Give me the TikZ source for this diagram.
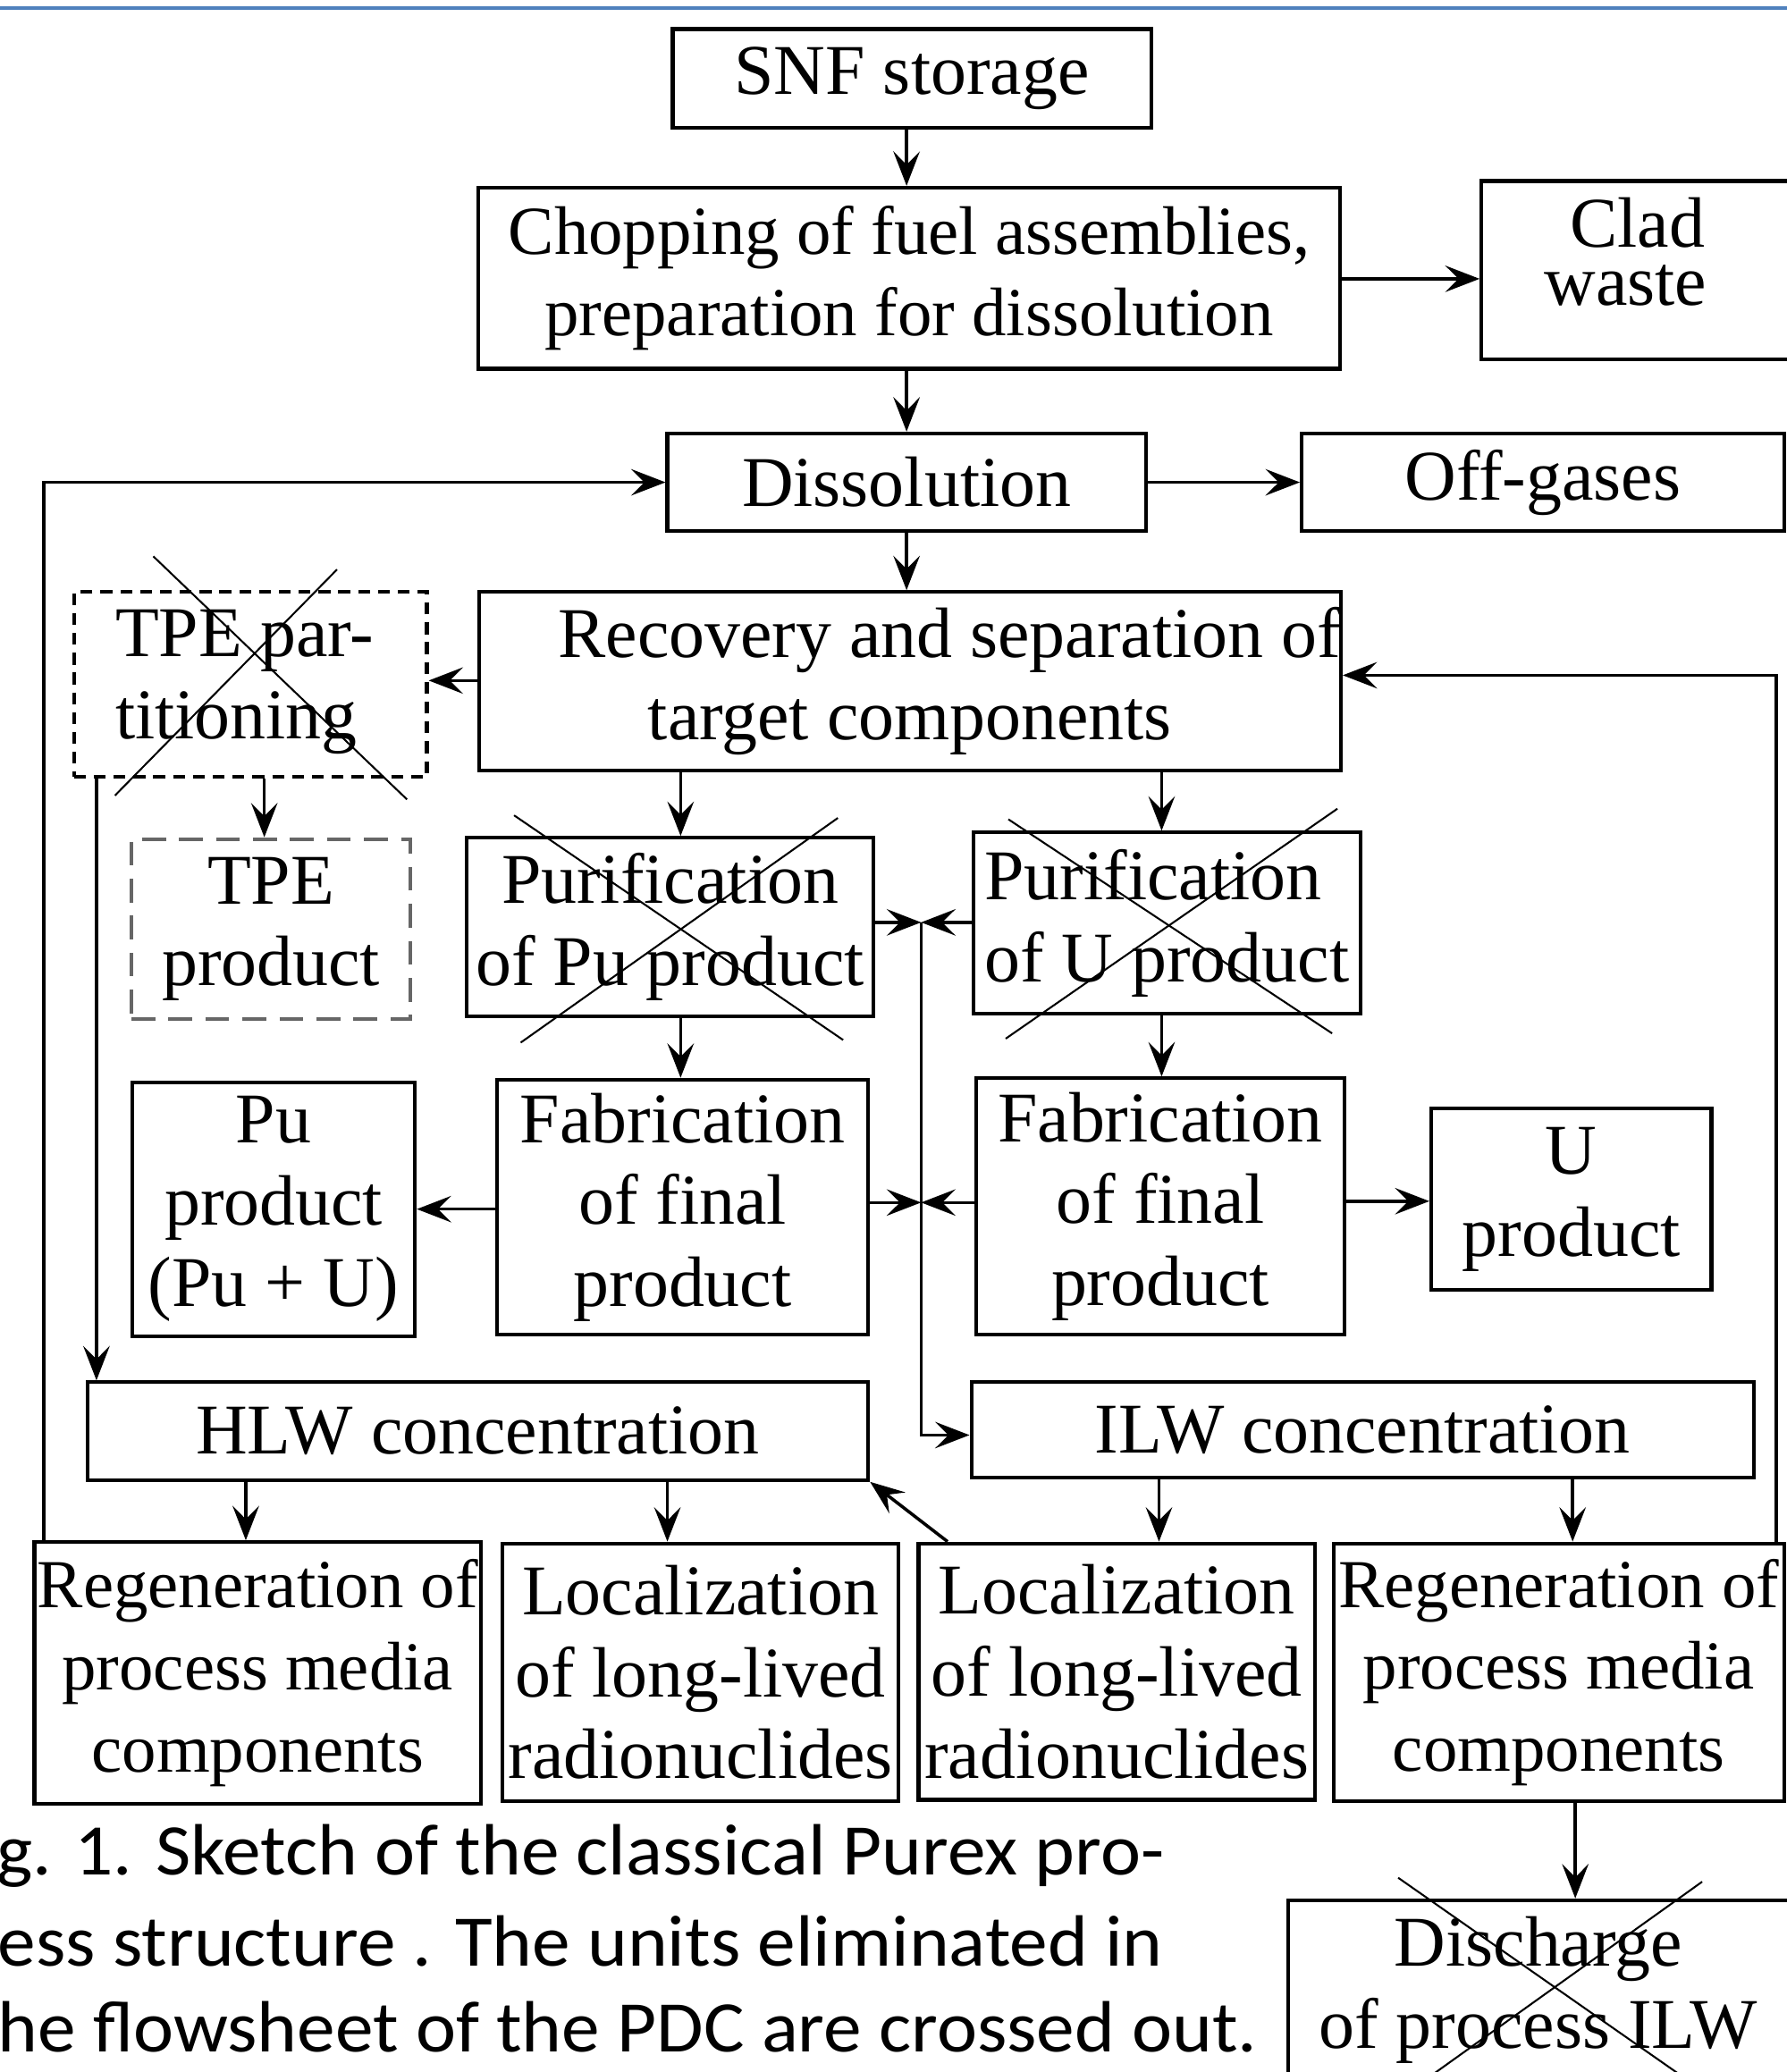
\documentclass[tikz,border=0pt]{standalone}
\usepackage{fontspec}
\setmainfont{Liberation Serif}
\newfontfamily\capfont[FakeStretch=1.05]{Carlito}
\usetikzlibrary{arrows.meta}
\definecolor{topblue}{HTML}{4F81BD}
\begin{document}
\begin{tikzpicture}[x=0.5pt,y=-0.5pt,
  bx/.style={draw=black, line width=1.4pt, inner sep=0pt, align=center, font=\fontsize{27}{31}\selectfont},
  sm/.style={font=\fontsize{26}{31}\selectfont},
  wh/.style 2 args={minimum width={#1*0.5pt}, minimum height={#2*0.5pt}},
  dbx/.style={bx, dash pattern=on 4.5pt off 3pt},
  dbxb/.style={bx, draw=black!60, dash pattern=on 9pt off 5pt},
  txt/.style={inner sep=0pt, align=center, font=\fontsize{27}{31}\selectfont},
  arr/.style={-{Stealth[length=13pt,width=10pt,inset=5pt]}, line width=1.2pt},
  xl/.style={line width=0.7pt},
  captxt/.style={inner sep=0pt, font=\capfont\fontsize{27.5}{33}\selectfont}
]
\useasboundingbox (0,0) rectangle (1352,1568);
\draw[topblue, line width=1.5pt] (0,6) -- (1352,6);

% boxes
\node[bx, wh={362}{75}] (snf) at (690,59.5) {SNF storage};
\node[bx, sm, wh={652}{137}] (chop) at (688,210.5) {Chopping of fuel assemblies,\\preparation for dissolution};
\node[bx, wh={245}{135}] (clad) at (1243.5,204.5) {};
\node[txt, anchor=base] (cladT1) at (1239,187) {Clad};
\node[txt, anchor=base] (cladT2) at (1230,231) {waste};
\node[bx, wh={362}{74}] (diss) at (686,365) {Dissolution};
\node[bx, wh={365}{74}] (off) at (1167.5,365) {Off-gases};
\node[dbx, wh={267}{140}] (tpep) at (189.5,518) {};
\node[txt, align=left, anchor=west] (tpepT) at (87,516) {TPE par-\\titioning};
\node[bx, wh={649}{135}] (rec) at (688.5,515.5) {\hspace*{30pt}Recovery and separation of\\target components};
\node[dbxb, wh={211}{136}] (tpeprod) at (205,703) {TPE\\product};
\node[bx, wh={308}{135}] (purpu) at (507,701.5) {Purification\\of Pu product};
\node[bx, wh={293}{137}, align=left] (puru) at (883,698.5) {Purification\\of U product};
\node[bx, wh={281}{193}] (fabpu) at (516.5,913.5) {Fabrication\\of final\\product};
\node[bx, wh={214}{192}] (puprod) at (207,915) {Pu\\product\\(Pu + U)};
\node[bx, wh={279}{194}] (fabu) at (878,913) {Fabrication\\of final\\product};
\node[bx, wh={212}{137}] (uprod) at (1189,907.5) {U\\product};
\node[bx, wh={591}{74}] (hlw) at (361.5,1083) {HLW concentration};
\node[bx, wh={592}{72}] (ilw) at (1031,1082) {ILW concentration};
\node[bx, sm, wh={338}{198}] (regl) at (195,1266) {Regeneration of\\process media\\components};
\node[bx, wh={300}{195}] (loc1) at (530,1265.5) {Localization\\of long-lived\\radionuclides};
\node[bx, wh={300}{194}] (loc2) at (845,1265) {Localization\\of long-lived\\radionuclides};
\node[bx, sm, wh={341}{195}] (regr) at (1179.5,1265.5) {Regeneration of\\process media\\components};
\node[bx, wh={380}{170}] (disch) at (1165,1523) {};
\node[txt] (dischT) at (1164,1506) {Discharge\\of process ILW};

% crosses
\draw[xl] (116,421) -- (308,605);
\draw[xl] (255,431) -- (87,602);
\draw[xl] (389,617) -- (638,787);
\draw[xl] (634,619) -- (394,789);
\draw[xl] (763,620) -- (1008,782);
\draw[xl] (1012,612) -- (761,786);
\draw[xl] (1058,1421) -- (1314,1600);
\draw[xl] (1288,1424) -- (1042,1600);

% junction points
\coordinate (j1) at (697,698);
\coordinate (j2) at (697,910);

% connectors
\draw[arr] (snf.south -| 686,0) -- (chop.north -| 686,0);
\draw[arr] (chop.south -| 686,0) -- (diss.north -| 686,0);
\draw[arr] (chop.east |- 0,211) -- (clad.west |- 0,211);
\draw[arr] (diss.east) -- (off.west);
\draw[arr] (diss.south -| 686,0) -- (rec.north -| 686,0);
\draw[arr] (regl.north -| 33,0) |- (diss.west);
\draw[arr] (rec.west |- 0,515) -- (tpep.east |- 0,515);
\draw[arr] (tpep.south -| 200,0) -- (tpeprod.north -| 200,0);
\draw[arr] (tpep.south -| 73,0) -- (hlw.north -| 73,0);
\draw[arr] (rec.south -| 515,0) -- (purpu.north -| 515,0);
\draw[arr] (rec.south -| 879,0) -- (puru.north -| 879,0);
\draw[arr] (purpu.south -| 515,0) -- (fabpu.north -| 515,0);
\draw[arr] (puru.south -| 879,0) -- (fabu.north -| 879,0);
\draw[arr] (purpu.east |- j1) -- (j1);
\draw[arr] (puru.west |- j1) -- (j1);
\draw[arr] (fabpu.east |- j2) -- (j2);
\draw[arr] (fabu.west |- j2) -- (j2);
\draw[arr] (j1) |- (ilw.west |- 0,1086);
\draw[arr] (fabpu.west |- 0,915) -- (puprod.east |- 0,915);
\draw[arr] (fabu.east |- 0,909) -- (uprod.west |- 0,909);
\draw[arr] (hlw.south -| 186,0) -- (regl.north -| 186,0);
\draw[arr] (hlw.south -| 505,0) -- (loc1.north -| 505,0);
\draw[arr] (loc2.north -| 717,0) -- (hlw.south east);
\draw[arr] (ilw.south -| 877,0) -- (loc2.north -| 877,0);
\draw[arr] (ilw.south -| 1190,0) -- (regr.north -| 1190,0);
\draw[arr] (regr.south -| 1192,0) -- (disch.north -| 1192,0);
\draw[arr] (regr.north -| 1344,0) |- (rec.east |- 0,511);

% caption
\node[captxt, anchor=base west] (cap1) at (-3,1419) {g. 1. Sketch of the classical Purex pro-};
\node[captxt, anchor=base west] (cap2) at (-2,1488) {ess structure . The units eliminated in};
\node[captxt, anchor=base west] (cap3) at (-2,1553) {he flowsheet of the PDC are crossed out.};
\end{tikzpicture}
\end{document}
